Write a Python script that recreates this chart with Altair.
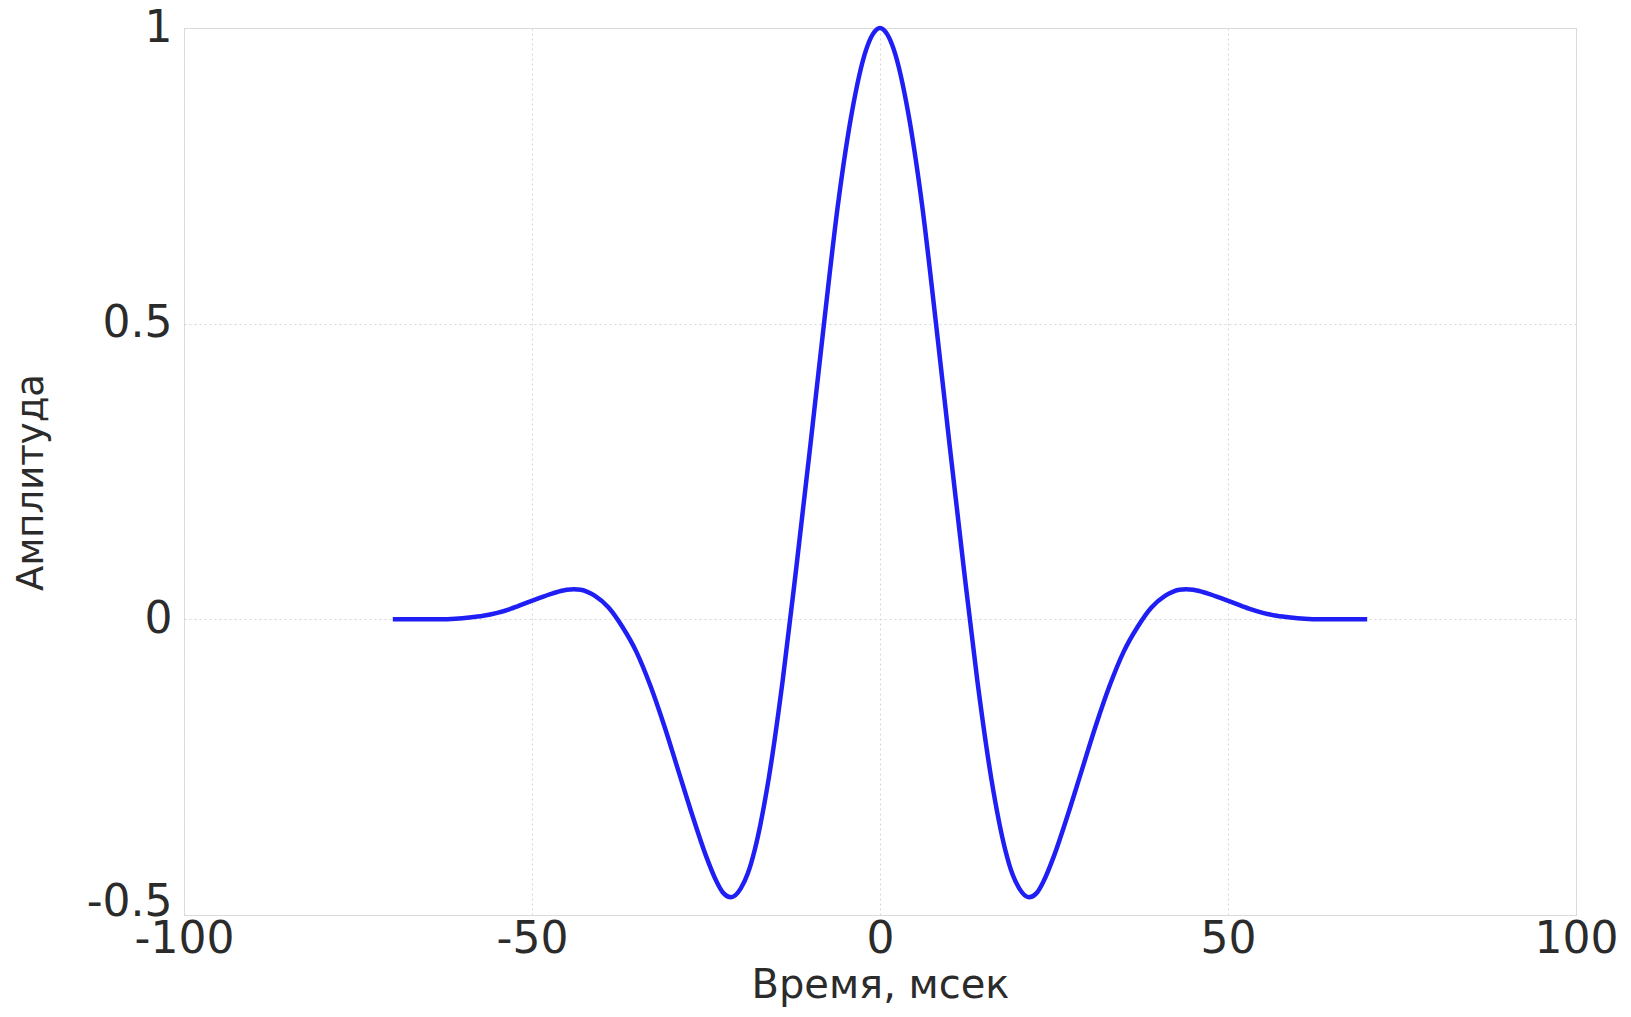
import altair as alt
import pandas as pd

# Time (ms) and amplitude
time_ms = [-70, -66, -63, -61, -59, -57, -55, -53, -51, -49, -47, -45, -44, -43,
           -41, -39, -37, -35, -33, -31, -29, -27, -25, -23.5, -22.5, -21.4, -20,
           -19, -18, -16, -14, -12, -10, -8, -6, -4, -2, -1, 0,
           1, 2, 4, 6, 8, 10, 12, 14, 16, 18, 19, 20, 21.4, 22.5, 23.5, 25, 27,
           29, 31, 33, 35, 37, 39, 41, 43, 44, 45, 47, 49, 51, 53, 55, 57, 59, 61,
           63, 66, 70]
amplitude = [0.0, 0.0, 0.0, 0.001, 0.003, 0.006, 0.011, 0.018, 0.027, 0.036,
             0.044, 0.05, 0.051, 0.05, 0.04, 0.02, -0.013, -0.055, -0.112, -0.18,
             -0.255, -0.33, -0.40, -0.443, -0.463, -0.47, -0.455, -0.43, -0.39,
             -0.27, -0.105, 0.09, 0.295, 0.505, 0.705, 0.86, 0.963, 0.99, 1.0,
             0.99, 0.963, 0.86, 0.705, 0.505, 0.295, 0.09, -0.105, -0.27, -0.39,
             -0.43, -0.455, -0.47, -0.463, -0.443, -0.40, -0.33, -0.255, -0.18,
             -0.112, -0.055, -0.013, 0.02, 0.04, 0.05, 0.051, 0.05, 0.044, 0.036,
             0.027, 0.018, 0.011, 0.006, 0.003, 0.001, 0.0, 0.0, 0.0]

x_ticks = [-100, -50, 0, 50, 100]
y_ticks = [-0.5, 0, 0.5, 1]

df = pd.DataFrame({"t": time_ms, "a": amplitude})

FONT = "DejaVu Sans"
TXT = "#2b2b2b"

chart = alt.Chart(df).mark_line(
    color="#1f1ff5", strokeWidth=4.5, interpolate="monotone"
).encode(
    x=alt.X("t:Q",
            scale=alt.Scale(domain=[-100, 100], nice=False, zero=False),
            axis=alt.Axis(values=x_ticks, title="Время, мсек",
                          labelExpr="toString(datum.value)",
                          labelFlush=False, labelFont=FONT, labelFontSize=44,
                          labelColor=TXT, labelPadding=2,
                          titleFont=FONT, titleFontSize=40, titleFontWeight="normal",
                          titleColor=TXT, titleY=82, titleBaseline="alphabetic",
                          grid=True, gridColor="#d6d6d6", gridDash=[2, 3],
                          gridWidth=1, domain=False, ticks=False)),
    y=alt.Y("a:Q",
            scale=alt.Scale(domain=[-0.5, 1], nice=False, zero=False),
            axis=alt.Axis(values=y_ticks, title="Амплитуда",
                          labelExpr="toString(datum.value)",
                          labelFont=FONT, labelFontSize=44, labelColor=TXT,
                          labelPadding=12, labelFlush=False,
                          labelBaseline={"condition": {"test": "datum.value == -0.5",
                                                       "value": "alphabetic"},
                                         "value": "middle"},
                          titleFont=FONT, titleFontSize=37, titleFontWeight="normal",
                          titleColor=TXT, titleX=-153, titleY=454,
                          titleBaseline="middle", titleAngle=-90,
                          grid=True, gridColor="#d6d6d6", gridDash=[2, 3],
                          gridWidth=1, domain=False, ticks=False)),
).properties(
    width=1392,
    height=887,
    autosize=alt.AutoSizeParams(type="none"),
    padding={"left": 176, "top": 20, "right": 45, "bottom": 93},
).configure_view(
    stroke="#8c8c8c", strokeWidth=2
).configure(background="white")

chart.save("out.html", embed_options={"renderer": "svg", "actions": False})
